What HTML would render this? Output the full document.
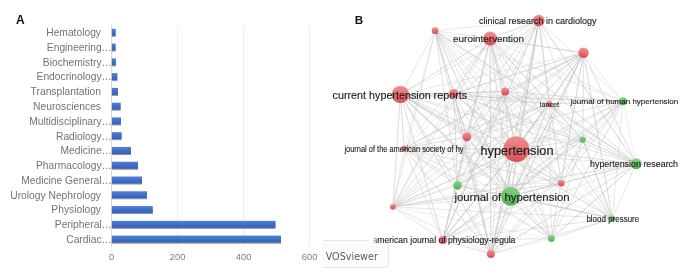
<!DOCTYPE html>
<html><head><meta charset="utf-8"><title>Figure</title>
<style>
html,body{margin:0;padding:0;background:#fff;}
body{width:685px;height:280px;overflow:hidden;}
svg{display:block;}
.lab{font-family:"Liberation Sans",Arial,sans-serif;font-size:10.27px;fill:#737373;}
.ax{font-family:"Liberation Sans",Arial,sans-serif;font-size:9.3px;fill:#7d7d7d;}
.pl{font-family:"Liberation Sans",Arial,sans-serif;font-size:12px;font-weight:bold;fill:#111;}
.g{font-family:"Liberation Sans","DejaVu Sans",sans-serif;fill:#1d1d1d;stroke:#1d1d1d;}
</style></head><body>
<svg width="685" height="280" viewBox="0 0 685 280">
<defs>
<linearGradient id="bg" x1="0" y1="0" x2="0" y2="1"><stop offset="0" stop-color="#4f7fd6"/><stop offset="0.5" stop-color="#416fc6"/><stop offset="1" stop-color="#3560b4"/></linearGradient>
<linearGradient id="rr" x1="0" y1="0" x2="0" y2="1"><stop offset="0" stop-color="#f08a8a"/><stop offset="1" stop-color="#d8434c"/></linearGradient>
<linearGradient id="gg" x1="0" y1="0" x2="0" y2="1"><stop offset="0" stop-color="#7fd07a"/><stop offset="1" stop-color="#45ac48"/></linearGradient>
<filter id="sh" x="-5%" y="-30%" width="110%" height="180%"><feGaussianBlur in="SourceAlpha" stdDeviation="0.6"/><feOffset dx="0.4" dy="0.7"/><feComponentTransfer><feFuncA type="linear" slope="0.45"/></feComponentTransfer><feMerge><feMergeNode/><feMergeNode in="SourceGraphic"/></feMerge></filter>
</defs>
<rect width="685" height="280" fill="#fff"/>

<text class="pl" x="16.1" y="23.9">A</text>
<line x1="177.6" y1="25" x2="177.6" y2="246.5" stroke="#eeeeee" stroke-width="1"/>
<line x1="243.6" y1="25" x2="243.6" y2="246.5" stroke="#eeeeee" stroke-width="1"/>
<line x1="309.6" y1="25" x2="309.6" y2="246.5" stroke="#eeeeee" stroke-width="1"/>
<line x1="111.6" y1="25" x2="111.6" y2="246.5" stroke="#d6d6d6" stroke-width="1"/>
<g filter="url(#sh)">
<rect x="111.9" y="28.80" width="3.7" height="7" fill="url(#bg)"/>
<rect x="111.9" y="43.57" width="3.7" height="7" fill="url(#bg)"/>
<rect x="111.9" y="58.34" width="3.9" height="7" fill="url(#bg)"/>
<rect x="111.9" y="73.11" width="5.4" height="7" fill="url(#bg)"/>
<rect x="111.9" y="87.89" width="6.1" height="7" fill="url(#bg)"/>
<rect x="111.9" y="102.66" width="8.7" height="7" fill="url(#bg)"/>
<rect x="111.9" y="117.43" width="9.1" height="7" fill="url(#bg)"/>
<rect x="111.9" y="132.20" width="9.7" height="7" fill="url(#bg)"/>
<rect x="111.9" y="146.97" width="19.1" height="7" fill="url(#bg)"/>
<rect x="111.9" y="161.74" width="26.1" height="7" fill="url(#bg)"/>
<rect x="111.9" y="176.51" width="30.1" height="7" fill="url(#bg)"/>
<rect x="111.9" y="191.29" width="35.1" height="7" fill="url(#bg)"/>
<rect x="111.9" y="206.06" width="40.8" height="7" fill="url(#bg)"/>
<rect x="111.9" y="220.83" width="163.6" height="7" fill="url(#bg)"/>
<rect x="111.9" y="235.60" width="169.1" height="7" fill="url(#bg)"/>
</g>
<text class="lab" x="101" y="36.15" text-anchor="end">Hematology</text>
<text class="lab" x="111.9" y="50.92" text-anchor="end">Engineering…</text>
<text class="lab" x="111.9" y="65.69" text-anchor="end">Biochemistry…</text>
<text class="lab" x="111.9" y="80.46" text-anchor="end">Endocrinology…</text>
<text class="lab" x="101" y="95.24" text-anchor="end">Transplantation</text>
<text class="lab" x="101" y="110.01" text-anchor="end">Neurosciences</text>
<text class="lab" x="111.9" y="124.78" text-anchor="end">Multidisciplinary…</text>
<text class="lab" x="111.9" y="139.55" text-anchor="end">Radiology…</text>
<text class="lab" x="111.9" y="154.32" text-anchor="end">Medicine…</text>
<text class="lab" x="111.9" y="169.09" text-anchor="end">Pharmacology…</text>
<text class="lab" x="111.9" y="183.86" text-anchor="end">Medicine General…</text>
<text class="lab" x="101" y="198.64" text-anchor="end">Urology Nephrology</text>
<text class="lab" x="101" y="213.41" text-anchor="end">Physiology</text>
<text class="lab" x="111.9" y="228.18" text-anchor="end">Peripheral…</text>
<text class="lab" x="111.9" y="242.95" text-anchor="end">Cardiac…</text>
<text class="ax" x="111.6" y="260.4" text-anchor="middle">0</text>
<text class="ax" x="177.6" y="260.4" text-anchor="middle">200</text>
<text class="ax" x="243.6" y="260.4" text-anchor="middle">400</text>
<text class="ax" x="309.6" y="260.4" text-anchor="middle">600</text>
<text class="pl" x="354.8" y="24" style="font-size:11.6px">B</text>
<g stroke="#c4c4c4" stroke-linecap="round" fill="none">
<line x1="435.1" y1="30.7" x2="490.1" y2="38.6" stroke-width="0.59" stroke-opacity="0.65"/>
<line x1="435.1" y1="30.7" x2="538.8" y2="20.5" stroke-width="0.48" stroke-opacity="0.77"/>
<line x1="435.1" y1="30.7" x2="400.4" y2="94.4" stroke-width="0.66" stroke-opacity="0.62"/>
<line x1="435.1" y1="30.7" x2="453.7" y2="93.4" stroke-width="0.59" stroke-opacity="0.86"/>
<line x1="435.1" y1="30.7" x2="505.2" y2="91.5" stroke-width="0.50" stroke-opacity="0.80"/>
<line x1="435.1" y1="30.7" x2="549.2" y2="103.9" stroke-width="0.61" stroke-opacity="0.73"/>
<line x1="435.1" y1="30.7" x2="623.0" y2="101.2" stroke-width="0.44" stroke-opacity="0.87"/>
<line x1="435.1" y1="30.7" x2="404.2" y2="148.4" stroke-width="0.45" stroke-opacity="0.64"/>
<line x1="435.1" y1="30.7" x2="466.9" y2="136.8" stroke-width="0.73" stroke-opacity="0.66"/>
<line x1="435.1" y1="30.7" x2="516.3" y2="149.1" stroke-width="0.81" stroke-opacity="0.72"/>
<line x1="435.1" y1="30.7" x2="582.8" y2="139.6" stroke-width="0.43" stroke-opacity="0.62"/>
<line x1="435.1" y1="30.7" x2="636.2" y2="163.8" stroke-width="0.71" stroke-opacity="0.74"/>
<line x1="435.1" y1="30.7" x2="457.5" y2="185.5" stroke-width="0.64" stroke-opacity="0.75"/>
<line x1="435.1" y1="30.7" x2="510.6" y2="196.3" stroke-width="0.83" stroke-opacity="0.82"/>
<line x1="435.1" y1="30.7" x2="561.3" y2="183.2" stroke-width="0.61" stroke-opacity="0.77"/>
<line x1="435.1" y1="30.7" x2="392.9" y2="206.8" stroke-width="0.66" stroke-opacity="0.69"/>
<line x1="435.1" y1="30.7" x2="612.3" y2="218.5" stroke-width="0.45" stroke-opacity="0.73"/>
<line x1="435.1" y1="30.7" x2="490.9" y2="253.9" stroke-width="0.67" stroke-opacity="0.84"/>
<line x1="435.1" y1="30.7" x2="551.4" y2="238.6" stroke-width="0.72" stroke-opacity="0.70"/>
<line x1="490.1" y1="38.6" x2="538.8" y2="20.5" stroke-width="0.78" stroke-opacity="0.79"/>
<line x1="490.1" y1="38.6" x2="583.5" y2="52.8" stroke-width="0.87" stroke-opacity="0.90"/>
<line x1="490.1" y1="38.6" x2="400.4" y2="94.4" stroke-width="0.89" stroke-opacity="0.62"/>
<line x1="490.1" y1="38.6" x2="453.7" y2="93.4" stroke-width="0.76" stroke-opacity="0.92"/>
<line x1="490.1" y1="38.6" x2="505.2" y2="91.5" stroke-width="0.60" stroke-opacity="0.72"/>
<line x1="490.1" y1="38.6" x2="549.2" y2="103.9" stroke-width="0.46" stroke-opacity="0.75"/>
<line x1="490.1" y1="38.6" x2="623.0" y2="101.2" stroke-width="0.53" stroke-opacity="0.62"/>
<line x1="490.1" y1="38.6" x2="404.2" y2="148.4" stroke-width="0.50" stroke-opacity="0.68"/>
<line x1="490.1" y1="38.6" x2="466.9" y2="136.8" stroke-width="0.85" stroke-opacity="0.63"/>
<line x1="490.1" y1="38.6" x2="516.3" y2="149.1" stroke-width="0.92" stroke-opacity="0.88"/>
<line x1="490.1" y1="38.6" x2="582.8" y2="139.6" stroke-width="0.80" stroke-opacity="0.69"/>
<line x1="490.1" y1="38.6" x2="636.2" y2="163.8" stroke-width="0.67" stroke-opacity="0.88"/>
<line x1="490.1" y1="38.6" x2="457.5" y2="185.5" stroke-width="0.55" stroke-opacity="0.66"/>
<line x1="490.1" y1="38.6" x2="510.6" y2="196.3" stroke-width="0.70" stroke-opacity="0.76"/>
<line x1="490.1" y1="38.6" x2="561.3" y2="183.2" stroke-width="0.57" stroke-opacity="0.60"/>
<line x1="490.1" y1="38.6" x2="392.9" y2="206.8" stroke-width="0.59" stroke-opacity="0.78"/>
<line x1="490.1" y1="38.6" x2="612.3" y2="218.5" stroke-width="0.72" stroke-opacity="0.76"/>
<line x1="490.1" y1="38.6" x2="442.8" y2="240.0" stroke-width="0.76" stroke-opacity="0.62"/>
<line x1="490.1" y1="38.6" x2="490.9" y2="253.9" stroke-width="0.80" stroke-opacity="0.88"/>
<line x1="490.1" y1="38.6" x2="551.4" y2="238.6" stroke-width="0.62" stroke-opacity="0.73"/>
<line x1="538.8" y1="20.5" x2="400.4" y2="94.4" stroke-width="0.64" stroke-opacity="0.65"/>
<line x1="538.8" y1="20.5" x2="453.7" y2="93.4" stroke-width="0.49" stroke-opacity="0.60"/>
<line x1="538.8" y1="20.5" x2="549.2" y2="103.9" stroke-width="0.77" stroke-opacity="0.80"/>
<line x1="538.8" y1="20.5" x2="623.0" y2="101.2" stroke-width="0.56" stroke-opacity="0.71"/>
<line x1="538.8" y1="20.5" x2="404.2" y2="148.4" stroke-width="0.48" stroke-opacity="0.87"/>
<line x1="538.8" y1="20.5" x2="466.9" y2="136.8" stroke-width="0.66" stroke-opacity="0.75"/>
<line x1="538.8" y1="20.5" x2="516.3" y2="149.1" stroke-width="0.65" stroke-opacity="0.71"/>
<line x1="538.8" y1="20.5" x2="636.2" y2="163.8" stroke-width="0.89" stroke-opacity="0.77"/>
<line x1="538.8" y1="20.5" x2="457.5" y2="185.5" stroke-width="0.68" stroke-opacity="0.61"/>
<line x1="538.8" y1="20.5" x2="510.6" y2="196.3" stroke-width="1.02" stroke-opacity="0.88"/>
<line x1="538.8" y1="20.5" x2="561.3" y2="183.2" stroke-width="0.55" stroke-opacity="0.72"/>
<line x1="538.8" y1="20.5" x2="392.9" y2="206.8" stroke-width="0.73" stroke-opacity="0.77"/>
<line x1="538.8" y1="20.5" x2="612.3" y2="218.5" stroke-width="0.56" stroke-opacity="0.67"/>
<line x1="538.8" y1="20.5" x2="442.8" y2="240.0" stroke-width="0.86" stroke-opacity="0.87"/>
<line x1="538.8" y1="20.5" x2="490.9" y2="253.9" stroke-width="0.79" stroke-opacity="0.84"/>
<line x1="583.5" y1="52.8" x2="400.4" y2="94.4" stroke-width="0.54" stroke-opacity="0.69"/>
<line x1="583.5" y1="52.8" x2="453.7" y2="93.4" stroke-width="0.74" stroke-opacity="0.91"/>
<line x1="583.5" y1="52.8" x2="505.2" y2="91.5" stroke-width="0.82" stroke-opacity="0.92"/>
<line x1="583.5" y1="52.8" x2="549.2" y2="103.9" stroke-width="0.57" stroke-opacity="0.67"/>
<line x1="583.5" y1="52.8" x2="623.0" y2="101.2" stroke-width="0.53" stroke-opacity="0.67"/>
<line x1="583.5" y1="52.8" x2="404.2" y2="148.4" stroke-width="0.76" stroke-opacity="0.87"/>
<line x1="583.5" y1="52.8" x2="466.9" y2="136.8" stroke-width="0.72" stroke-opacity="0.86"/>
<line x1="583.5" y1="52.8" x2="516.3" y2="149.1" stroke-width="0.91" stroke-opacity="0.89"/>
<line x1="583.5" y1="52.8" x2="582.8" y2="139.6" stroke-width="0.71" stroke-opacity="0.75"/>
<line x1="583.5" y1="52.8" x2="636.2" y2="163.8" stroke-width="0.81" stroke-opacity="0.71"/>
<line x1="583.5" y1="52.8" x2="457.5" y2="185.5" stroke-width="0.84" stroke-opacity="0.73"/>
<line x1="583.5" y1="52.8" x2="510.6" y2="196.3" stroke-width="0.98" stroke-opacity="0.83"/>
<line x1="583.5" y1="52.8" x2="561.3" y2="183.2" stroke-width="0.49" stroke-opacity="0.65"/>
<line x1="583.5" y1="52.8" x2="392.9" y2="206.8" stroke-width="0.73" stroke-opacity="0.65"/>
<line x1="583.5" y1="52.8" x2="612.3" y2="218.5" stroke-width="0.80" stroke-opacity="0.81"/>
<line x1="583.5" y1="52.8" x2="490.9" y2="253.9" stroke-width="0.83" stroke-opacity="0.81"/>
<line x1="583.5" y1="52.8" x2="551.4" y2="238.6" stroke-width="0.79" stroke-opacity="0.74"/>
<line x1="400.4" y1="94.4" x2="453.7" y2="93.4" stroke-width="0.88" stroke-opacity="0.67"/>
<line x1="400.4" y1="94.4" x2="505.2" y2="91.5" stroke-width="0.63" stroke-opacity="0.68"/>
<line x1="400.4" y1="94.4" x2="549.2" y2="103.9" stroke-width="0.58" stroke-opacity="0.73"/>
<line x1="400.4" y1="94.4" x2="623.0" y2="101.2" stroke-width="0.89" stroke-opacity="0.71"/>
<line x1="400.4" y1="94.4" x2="404.2" y2="148.4" stroke-width="0.70" stroke-opacity="0.89"/>
<line x1="400.4" y1="94.4" x2="466.9" y2="136.8" stroke-width="0.91" stroke-opacity="0.76"/>
<line x1="400.4" y1="94.4" x2="516.3" y2="149.1" stroke-width="0.96" stroke-opacity="0.61"/>
<line x1="400.4" y1="94.4" x2="582.8" y2="139.6" stroke-width="0.55" stroke-opacity="0.60"/>
<line x1="400.4" y1="94.4" x2="636.2" y2="163.8" stroke-width="0.62" stroke-opacity="0.75"/>
<line x1="400.4" y1="94.4" x2="457.5" y2="185.5" stroke-width="0.75" stroke-opacity="0.70"/>
<line x1="400.4" y1="94.4" x2="510.6" y2="196.3" stroke-width="0.90" stroke-opacity="0.85"/>
<line x1="400.4" y1="94.4" x2="561.3" y2="183.2" stroke-width="0.71" stroke-opacity="0.68"/>
<line x1="400.4" y1="94.4" x2="392.9" y2="206.8" stroke-width="0.78" stroke-opacity="0.76"/>
<line x1="400.4" y1="94.4" x2="612.3" y2="218.5" stroke-width="0.78" stroke-opacity="0.89"/>
<line x1="400.4" y1="94.4" x2="442.8" y2="240.0" stroke-width="0.77" stroke-opacity="0.76"/>
<line x1="400.4" y1="94.4" x2="490.9" y2="253.9" stroke-width="0.80" stroke-opacity="0.74"/>
<line x1="400.4" y1="94.4" x2="551.4" y2="238.6" stroke-width="0.68" stroke-opacity="0.90"/>
<line x1="453.7" y1="93.4" x2="505.2" y2="91.5" stroke-width="0.77" stroke-opacity="0.90"/>
<line x1="453.7" y1="93.4" x2="549.2" y2="103.9" stroke-width="0.63" stroke-opacity="0.90"/>
<line x1="453.7" y1="93.4" x2="623.0" y2="101.2" stroke-width="0.49" stroke-opacity="0.64"/>
<line x1="453.7" y1="93.4" x2="466.9" y2="136.8" stroke-width="0.71" stroke-opacity="0.85"/>
<line x1="453.7" y1="93.4" x2="516.3" y2="149.1" stroke-width="0.63" stroke-opacity="0.83"/>
<line x1="453.7" y1="93.4" x2="582.8" y2="139.6" stroke-width="0.48" stroke-opacity="0.88"/>
<line x1="453.7" y1="93.4" x2="636.2" y2="163.8" stroke-width="0.56" stroke-opacity="0.90"/>
<line x1="453.7" y1="93.4" x2="457.5" y2="185.5" stroke-width="0.63" stroke-opacity="0.92"/>
<line x1="453.7" y1="93.4" x2="510.6" y2="196.3" stroke-width="0.60" stroke-opacity="0.74"/>
<line x1="453.7" y1="93.4" x2="561.3" y2="183.2" stroke-width="0.55" stroke-opacity="0.66"/>
<line x1="453.7" y1="93.4" x2="392.9" y2="206.8" stroke-width="0.68" stroke-opacity="0.61"/>
<line x1="453.7" y1="93.4" x2="612.3" y2="218.5" stroke-width="0.58" stroke-opacity="0.61"/>
<line x1="453.7" y1="93.4" x2="490.9" y2="253.9" stroke-width="0.82" stroke-opacity="0.85"/>
<line x1="505.2" y1="91.5" x2="549.2" y2="103.9" stroke-width="0.69" stroke-opacity="0.69"/>
<line x1="505.2" y1="91.5" x2="623.0" y2="101.2" stroke-width="0.59" stroke-opacity="0.89"/>
<line x1="505.2" y1="91.5" x2="404.2" y2="148.4" stroke-width="0.50" stroke-opacity="0.65"/>
<line x1="505.2" y1="91.5" x2="466.9" y2="136.8" stroke-width="0.66" stroke-opacity="0.82"/>
<line x1="505.2" y1="91.5" x2="516.3" y2="149.1" stroke-width="0.57" stroke-opacity="0.82"/>
<line x1="505.2" y1="91.5" x2="582.8" y2="139.6" stroke-width="0.44" stroke-opacity="0.90"/>
<line x1="505.2" y1="91.5" x2="636.2" y2="163.8" stroke-width="0.77" stroke-opacity="0.63"/>
<line x1="505.2" y1="91.5" x2="457.5" y2="185.5" stroke-width="0.46" stroke-opacity="0.88"/>
<line x1="505.2" y1="91.5" x2="510.6" y2="196.3" stroke-width="0.66" stroke-opacity="0.78"/>
<line x1="505.2" y1="91.5" x2="561.3" y2="183.2" stroke-width="0.52" stroke-opacity="0.64"/>
<line x1="505.2" y1="91.5" x2="392.9" y2="206.8" stroke-width="0.50" stroke-opacity="0.64"/>
<line x1="505.2" y1="91.5" x2="612.3" y2="218.5" stroke-width="0.43" stroke-opacity="0.66"/>
<line x1="505.2" y1="91.5" x2="442.8" y2="240.0" stroke-width="0.55" stroke-opacity="0.84"/>
<line x1="505.2" y1="91.5" x2="490.9" y2="253.9" stroke-width="0.62" stroke-opacity="0.66"/>
<line x1="549.2" y1="103.9" x2="623.0" y2="101.2" stroke-width="0.68" stroke-opacity="0.78"/>
<line x1="549.2" y1="103.9" x2="404.2" y2="148.4" stroke-width="0.56" stroke-opacity="0.90"/>
<line x1="549.2" y1="103.9" x2="466.9" y2="136.8" stroke-width="0.72" stroke-opacity="0.74"/>
<line x1="549.2" y1="103.9" x2="516.3" y2="149.1" stroke-width="0.88" stroke-opacity="0.73"/>
<line x1="549.2" y1="103.9" x2="582.8" y2="139.6" stroke-width="0.64" stroke-opacity="0.91"/>
<line x1="549.2" y1="103.9" x2="636.2" y2="163.8" stroke-width="0.75" stroke-opacity="0.83"/>
<line x1="549.2" y1="103.9" x2="510.6" y2="196.3" stroke-width="0.53" stroke-opacity="0.62"/>
<line x1="549.2" y1="103.9" x2="561.3" y2="183.2" stroke-width="0.49" stroke-opacity="0.65"/>
<line x1="549.2" y1="103.9" x2="392.9" y2="206.8" stroke-width="0.68" stroke-opacity="0.88"/>
<line x1="549.2" y1="103.9" x2="612.3" y2="218.5" stroke-width="0.50" stroke-opacity="0.68"/>
<line x1="549.2" y1="103.9" x2="442.8" y2="240.0" stroke-width="0.58" stroke-opacity="0.65"/>
<line x1="549.2" y1="103.9" x2="490.9" y2="253.9" stroke-width="0.51" stroke-opacity="0.91"/>
<line x1="549.2" y1="103.9" x2="551.4" y2="238.6" stroke-width="0.60" stroke-opacity="0.68"/>
<line x1="623.0" y1="101.2" x2="466.9" y2="136.8" stroke-width="0.59" stroke-opacity="0.75"/>
<line x1="623.0" y1="101.2" x2="582.8" y2="139.6" stroke-width="0.51" stroke-opacity="0.63"/>
<line x1="623.0" y1="101.2" x2="636.2" y2="163.8" stroke-width="0.47" stroke-opacity="0.61"/>
<line x1="623.0" y1="101.2" x2="457.5" y2="185.5" stroke-width="0.52" stroke-opacity="0.79"/>
<line x1="623.0" y1="101.2" x2="510.6" y2="196.3" stroke-width="0.84" stroke-opacity="0.81"/>
<line x1="623.0" y1="101.2" x2="561.3" y2="183.2" stroke-width="0.74" stroke-opacity="0.72"/>
<line x1="623.0" y1="101.2" x2="392.9" y2="206.8" stroke-width="0.76" stroke-opacity="0.65"/>
<line x1="623.0" y1="101.2" x2="612.3" y2="218.5" stroke-width="0.64" stroke-opacity="0.61"/>
<line x1="623.0" y1="101.2" x2="442.8" y2="240.0" stroke-width="0.77" stroke-opacity="0.80"/>
<line x1="623.0" y1="101.2" x2="490.9" y2="253.9" stroke-width="0.74" stroke-opacity="0.64"/>
<line x1="623.0" y1="101.2" x2="551.4" y2="238.6" stroke-width="0.61" stroke-opacity="0.87"/>
<line x1="404.2" y1="148.4" x2="466.9" y2="136.8" stroke-width="0.72" stroke-opacity="0.79"/>
<line x1="404.2" y1="148.4" x2="516.3" y2="149.1" stroke-width="0.81" stroke-opacity="0.82"/>
<line x1="404.2" y1="148.4" x2="582.8" y2="139.6" stroke-width="0.41" stroke-opacity="0.64"/>
<line x1="404.2" y1="148.4" x2="636.2" y2="163.8" stroke-width="0.47" stroke-opacity="0.87"/>
<line x1="404.2" y1="148.4" x2="457.5" y2="185.5" stroke-width="0.64" stroke-opacity="0.80"/>
<line x1="404.2" y1="148.4" x2="510.6" y2="196.3" stroke-width="0.68" stroke-opacity="0.60"/>
<line x1="404.2" y1="148.4" x2="561.3" y2="183.2" stroke-width="0.66" stroke-opacity="0.76"/>
<line x1="404.2" y1="148.4" x2="392.9" y2="206.8" stroke-width="0.62" stroke-opacity="0.62"/>
<line x1="404.2" y1="148.4" x2="612.3" y2="218.5" stroke-width="0.48" stroke-opacity="0.62"/>
<line x1="404.2" y1="148.4" x2="442.8" y2="240.0" stroke-width="0.67" stroke-opacity="0.67"/>
<line x1="404.2" y1="148.4" x2="490.9" y2="253.9" stroke-width="0.76" stroke-opacity="0.76"/>
<line x1="404.2" y1="148.4" x2="551.4" y2="238.6" stroke-width="0.57" stroke-opacity="0.82"/>
<line x1="466.9" y1="136.8" x2="582.8" y2="139.6" stroke-width="0.48" stroke-opacity="0.68"/>
<line x1="466.9" y1="136.8" x2="457.5" y2="185.5" stroke-width="0.47" stroke-opacity="0.69"/>
<line x1="466.9" y1="136.8" x2="510.6" y2="196.3" stroke-width="0.83" stroke-opacity="0.82"/>
<line x1="466.9" y1="136.8" x2="561.3" y2="183.2" stroke-width="0.62" stroke-opacity="0.75"/>
<line x1="466.9" y1="136.8" x2="392.9" y2="206.8" stroke-width="0.46" stroke-opacity="0.89"/>
<line x1="466.9" y1="136.8" x2="442.8" y2="240.0" stroke-width="0.62" stroke-opacity="0.86"/>
<line x1="466.9" y1="136.8" x2="490.9" y2="253.9" stroke-width="0.61" stroke-opacity="0.69"/>
<line x1="466.9" y1="136.8" x2="551.4" y2="238.6" stroke-width="0.78" stroke-opacity="0.67"/>
<line x1="516.3" y1="149.1" x2="582.8" y2="139.6" stroke-width="0.58" stroke-opacity="0.77"/>
<line x1="516.3" y1="149.1" x2="636.2" y2="163.8" stroke-width="0.66" stroke-opacity="0.86"/>
<line x1="516.3" y1="149.1" x2="457.5" y2="185.5" stroke-width="0.97" stroke-opacity="0.83"/>
<line x1="516.3" y1="149.1" x2="561.3" y2="183.2" stroke-width="0.52" stroke-opacity="0.76"/>
<line x1="516.3" y1="149.1" x2="392.9" y2="206.8" stroke-width="0.64" stroke-opacity="0.65"/>
<line x1="516.3" y1="149.1" x2="442.8" y2="240.0" stroke-width="0.90" stroke-opacity="0.87"/>
<line x1="516.3" y1="149.1" x2="490.9" y2="253.9" stroke-width="0.98" stroke-opacity="0.83"/>
<line x1="516.3" y1="149.1" x2="551.4" y2="238.6" stroke-width="0.66" stroke-opacity="0.72"/>
<line x1="582.8" y1="139.6" x2="636.2" y2="163.8" stroke-width="0.81" stroke-opacity="0.79"/>
<line x1="582.8" y1="139.6" x2="510.6" y2="196.3" stroke-width="0.53" stroke-opacity="0.87"/>
<line x1="582.8" y1="139.6" x2="561.3" y2="183.2" stroke-width="0.73" stroke-opacity="0.68"/>
<line x1="582.8" y1="139.6" x2="392.9" y2="206.8" stroke-width="0.57" stroke-opacity="0.66"/>
<line x1="582.8" y1="139.6" x2="612.3" y2="218.5" stroke-width="0.73" stroke-opacity="0.88"/>
<line x1="582.8" y1="139.6" x2="442.8" y2="240.0" stroke-width="0.65" stroke-opacity="0.89"/>
<line x1="582.8" y1="139.6" x2="551.4" y2="238.6" stroke-width="0.66" stroke-opacity="0.74"/>
<line x1="636.2" y1="163.8" x2="510.6" y2="196.3" stroke-width="0.98" stroke-opacity="0.64"/>
<line x1="636.2" y1="163.8" x2="561.3" y2="183.2" stroke-width="0.57" stroke-opacity="0.70"/>
<line x1="636.2" y1="163.8" x2="392.9" y2="206.8" stroke-width="0.80" stroke-opacity="0.68"/>
<line x1="636.2" y1="163.8" x2="612.3" y2="218.5" stroke-width="0.55" stroke-opacity="0.78"/>
<line x1="636.2" y1="163.8" x2="442.8" y2="240.0" stroke-width="0.53" stroke-opacity="0.65"/>
<line x1="636.2" y1="163.8" x2="490.9" y2="253.9" stroke-width="0.81" stroke-opacity="0.76"/>
<line x1="636.2" y1="163.8" x2="551.4" y2="238.6" stroke-width="0.79" stroke-opacity="0.92"/>
<line x1="457.5" y1="185.5" x2="510.6" y2="196.3" stroke-width="0.58" stroke-opacity="0.66"/>
<line x1="457.5" y1="185.5" x2="561.3" y2="183.2" stroke-width="0.55" stroke-opacity="0.63"/>
<line x1="457.5" y1="185.5" x2="392.9" y2="206.8" stroke-width="0.51" stroke-opacity="0.78"/>
<line x1="457.5" y1="185.5" x2="612.3" y2="218.5" stroke-width="0.69" stroke-opacity="0.73"/>
<line x1="457.5" y1="185.5" x2="442.8" y2="240.0" stroke-width="0.64" stroke-opacity="0.72"/>
<line x1="457.5" y1="185.5" x2="490.9" y2="253.9" stroke-width="0.46" stroke-opacity="0.69"/>
<line x1="457.5" y1="185.5" x2="551.4" y2="238.6" stroke-width="0.47" stroke-opacity="0.76"/>
<line x1="510.6" y1="196.3" x2="561.3" y2="183.2" stroke-width="0.85" stroke-opacity="0.67"/>
<line x1="510.6" y1="196.3" x2="392.9" y2="206.8" stroke-width="0.58" stroke-opacity="0.73"/>
<line x1="510.6" y1="196.3" x2="612.3" y2="218.5" stroke-width="0.87" stroke-opacity="0.87"/>
<line x1="510.6" y1="196.3" x2="442.8" y2="240.0" stroke-width="0.52" stroke-opacity="0.61"/>
<line x1="510.6" y1="196.3" x2="490.9" y2="253.9" stroke-width="0.90" stroke-opacity="0.75"/>
<line x1="510.6" y1="196.3" x2="551.4" y2="238.6" stroke-width="0.49" stroke-opacity="0.73"/>
<line x1="561.3" y1="183.2" x2="392.9" y2="206.8" stroke-width="0.69" stroke-opacity="0.87"/>
<line x1="561.3" y1="183.2" x2="612.3" y2="218.5" stroke-width="0.49" stroke-opacity="0.63"/>
<line x1="561.3" y1="183.2" x2="442.8" y2="240.0" stroke-width="0.61" stroke-opacity="0.82"/>
<line x1="561.3" y1="183.2" x2="490.9" y2="253.9" stroke-width="0.68" stroke-opacity="0.81"/>
<line x1="392.9" y1="206.8" x2="612.3" y2="218.5" stroke-width="0.66" stroke-opacity="0.67"/>
<line x1="392.9" y1="206.8" x2="442.8" y2="240.0" stroke-width="0.64" stroke-opacity="0.70"/>
<line x1="392.9" y1="206.8" x2="490.9" y2="253.9" stroke-width="0.50" stroke-opacity="0.80"/>
<line x1="392.9" y1="206.8" x2="551.4" y2="238.6" stroke-width="0.44" stroke-opacity="0.62"/>
<line x1="612.3" y1="218.5" x2="442.8" y2="240.0" stroke-width="0.62" stroke-opacity="0.72"/>
<line x1="612.3" y1="218.5" x2="490.9" y2="253.9" stroke-width="0.63" stroke-opacity="0.60"/>
<line x1="612.3" y1="218.5" x2="551.4" y2="238.6" stroke-width="0.57" stroke-opacity="0.91"/>
<line x1="442.8" y1="240.0" x2="490.9" y2="253.9" stroke-width="0.77" stroke-opacity="0.75"/>
<line x1="442.8" y1="240.0" x2="551.4" y2="238.6" stroke-width="0.51" stroke-opacity="0.91"/>
<line x1="490.9" y1="253.9" x2="551.4" y2="238.6" stroke-width="0.53" stroke-opacity="0.61"/>
</g>
<circle cx="435.1" cy="30.7" r="3.4" fill="url(#rr)" fill-opacity="0.93"/>
<circle cx="490.1" cy="38.6" r="7.0" fill="url(#rr)" fill-opacity="0.93"/>
<circle cx="538.8" cy="20.5" r="5.8" fill="url(#rr)" fill-opacity="0.93"/>
<circle cx="583.5" cy="52.8" r="5.2" fill="url(#rr)" fill-opacity="0.93"/>
<circle cx="400.4" cy="94.4" r="8.7" fill="url(#rr)" fill-opacity="0.93"/>
<circle cx="453.7" cy="93.4" r="4.5" fill="url(#rr)" fill-opacity="0.93"/>
<circle cx="505.2" cy="91.5" r="4.0" fill="url(#rr)" fill-opacity="0.93"/>
<circle cx="549.2" cy="103.9" r="3.0" fill="url(#rr)" fill-opacity="0.93"/>
<circle cx="623.0" cy="101.2" r="4.0" fill="url(#gg)" fill-opacity="0.93"/>
<circle cx="404.2" cy="148.4" r="2.9" fill="url(#rr)" fill-opacity="0.93"/>
<circle cx="466.9" cy="136.8" r="4.4" fill="url(#rr)" fill-opacity="0.93"/>
<circle cx="516.3" cy="149.1" r="12.9" fill="url(#rr)" fill-opacity="0.93"/>
<circle cx="582.8" cy="139.6" r="3.1" fill="url(#gg)" fill-opacity="0.93"/>
<circle cx="636.2" cy="163.8" r="5.5" fill="url(#gg)" fill-opacity="0.93"/>
<circle cx="457.5" cy="185.5" r="4.2" fill="url(#gg)" fill-opacity="0.93"/>
<circle cx="510.6" cy="196.3" r="9.5" fill="url(#gg)" fill-opacity="0.93"/>
<circle cx="561.3" cy="183.2" r="3.3" fill="url(#rr)" fill-opacity="0.93"/>
<circle cx="392.9" cy="206.8" r="2.9" fill="url(#rr)" fill-opacity="0.93"/>
<circle cx="612.3" cy="218.5" r="3.0" fill="url(#gg)" fill-opacity="0.93"/>
<circle cx="442.8" cy="240.0" r="4.1" fill="url(#rr)" fill-opacity="0.93"/>
<circle cx="490.9" cy="253.9" r="4.0" fill="url(#rr)" fill-opacity="0.93"/>
<circle cx="551.4" cy="238.6" r="3.4" fill="url(#gg)" fill-opacity="0.93"/>
<clipPath id="vc"><rect x="322.4" y="238" width="80" height="30.2"/></clipPath>
<g clip-path="url(#vc)"><rect x="312" y="240.4" width="76.4" height="27.2" rx="3.5" fill="#fbfbfb" stroke="#e6e6e6" stroke-width="1"/></g>
<text class="g" x="478.9" y="23.9" font-size="9.5" stroke-width="0.13" textLength="117.7" lengthAdjust="spacingAndGlyphs">clinical research in cardiology</text>
<text class="g" x="453.1" y="42.3" font-size="9.6" stroke-width="0.13" textLength="71.0" lengthAdjust="spacingAndGlyphs">eurointervention</text>
<text class="g" x="332.6" y="98.6" font-size="10.6" stroke-width="0.15" textLength="134.5" lengthAdjust="spacingAndGlyphs">current hypertension reports</text>
<text class="g" x="539.8" y="106.6" font-size="7.3" stroke-width="0.10" textLength="19.2" lengthAdjust="spacingAndGlyphs">lancet</text>
<text class="g" x="570.5" y="103.9" font-size="7.8" stroke-width="0.11" textLength="107.8" lengthAdjust="spacingAndGlyphs">journal of human hypertension</text>
<text class="g" x="344.4" y="151.5" font-size="8.2" stroke-width="0.11" textLength="119.1" lengthAdjust="spacingAndGlyphs">journal of the american society of hy</text>
<text class="g" x="480.5" y="154.9" font-size="13.0" stroke-width="0.18" textLength="73.0" lengthAdjust="spacingAndGlyphs">hypertension</text>
<text class="g" x="590.0" y="167.3" font-size="9.1" stroke-width="0.13" textLength="88.0" lengthAdjust="spacingAndGlyphs">hypertension research</text>
<text class="g" x="454.4" y="201.1" font-size="11.5" stroke-width="0.16" textLength="115.2" lengthAdjust="spacingAndGlyphs">journal of hypertension</text>
<text class="g" x="586.4" y="221.8" font-size="8.2" stroke-width="0.11" textLength="52.8" lengthAdjust="spacingAndGlyphs">blood pressure</text>
<text class="g" x="372.5" y="243.4" font-size="8.8" stroke-width="0.12" textLength="142.9" lengthAdjust="spacingAndGlyphs">american journal of physiology-regula</text>
<linearGradient id="fd" x1="0" y1="0" x2="1" y2="0"><stop offset="0" stop-color="#fff" stop-opacity="1"/><stop offset="0.45" stop-color="#fff" stop-opacity="0.9"/><stop offset="1" stop-color="#fff" stop-opacity="0"/></linearGradient><rect x="369" y="235" width="8.6" height="10" fill="url(#fd)"/>
<text x="325.7" y="259.6" font-family="'DejaVu Sans','Liberation Sans',sans-serif" font-size="9.8" fill="#5a5a5a" textLength="52.2" lengthAdjust="spacingAndGlyphs">VOSviewer</text>
</svg></body></html>
